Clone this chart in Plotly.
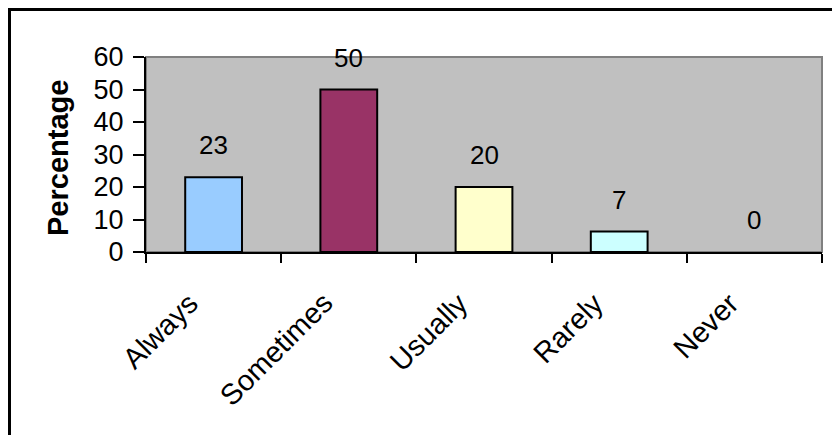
import plotly.graph_objects as go

categories = ["Always", "Sometimes", "Usually", "Rarely", "Never"]
bar_heights = [23, 50, 20, 6.3, 0]
value_labels = ["23", "50", "20", "7", "0"]
bar_colors = ["#99CCFF", "#993366", "#FFFFCC", "#CCFFFF", "#FFFFFF"]
bar_line_widths = [2, 2, 2, 2, 0]
y_ticks = [0, 10, 20, 30, 40, 50, 60]

FONT = "Liberation Sans, Arial, sans-serif"
W, H = 832, 435
L, R, T, B = 146, 10, 57, 183
pw = W - L - R
ph = H - T - B

def px_x(p):
    return (p - L) / pw

def px_y(p):
    return (H - B - p) / ph

fig = go.Figure()
fig.add_trace(go.Bar(
    x=categories, y=bar_heights,
    marker=dict(color=bar_colors, line=dict(color="black", width=bar_line_widths)),
    width=0.42, showlegend=False, hoverinfo="skip",
))

for c, v, lab in zip(categories, bar_heights, value_labels):
    fig.add_annotation(x=c, y=v, text=lab, showarrow=False, yshift=32,
                       font=dict(family=FONT, size=26, color="black"),
                       xref="x", yref="y")

# rotated category labels
for c in categories:
    fig.add_annotation(x=c, y=px_y(284), xref="x", yref="paper", text=c,
                       textangle=-45, showarrow=False, xanchor="right",
                       yanchor="top", xshift=-7,
                       font=dict(family=FONT, size=29, color="black"))

fig.add_annotation(x=px_x(58), y=px_y(158), xref="paper", yref="paper",
                   text="<b>Percentage</b>", textangle=-90, showarrow=False,
                   xanchor="center", yanchor="middle",
                   font=dict(family=FONT, size=29, color="black"))

# plot-area border (gray) and outer frame (black)
fig.add_shape(type="rect", xref="paper", yref="paper", x0=0, x1=1, y0=0, y1=1,
              line=dict(color="#808080", width=2), layer="below")
fig.add_shape(type="rect", xref="paper", yref="paper",
              x0=px_x(9.5), x1=px_x(950), y0=px_y(520), y1=px_y(9.5),
              line=dict(color="black", width=3))

fig.update_layout(
    width=W, height=H,
    margin=dict(l=L, r=R, t=T, b=B),
    paper_bgcolor="white", plot_bgcolor="#C0C0C0",
    font=dict(family=FONT, size=26, color="black"),
    bargap=0.58,
    xaxis=dict(range=[-0.5, len(categories) - 0.5], autorange=False,
               showline=True, linecolor="black", linewidth=2,
               ticks="outside", tickson="boundaries", ticklen=9,
               tickcolor="black", tickwidth=2, showticklabels=False,
               showgrid=False, fixedrange=True),
    yaxis=dict(range=[0, 60], tickvals=y_ticks, showline=True, linecolor="black",
               linewidth=2, ticks="outside", ticklen=11, tickcolor="black",
               tickwidth=2, ticklabelstandoff=4,
               tickfont=dict(family=FONT, size=27), showgrid=False,
               zeroline=False, fixedrange=True),
)

fig.write_html("out.html")
